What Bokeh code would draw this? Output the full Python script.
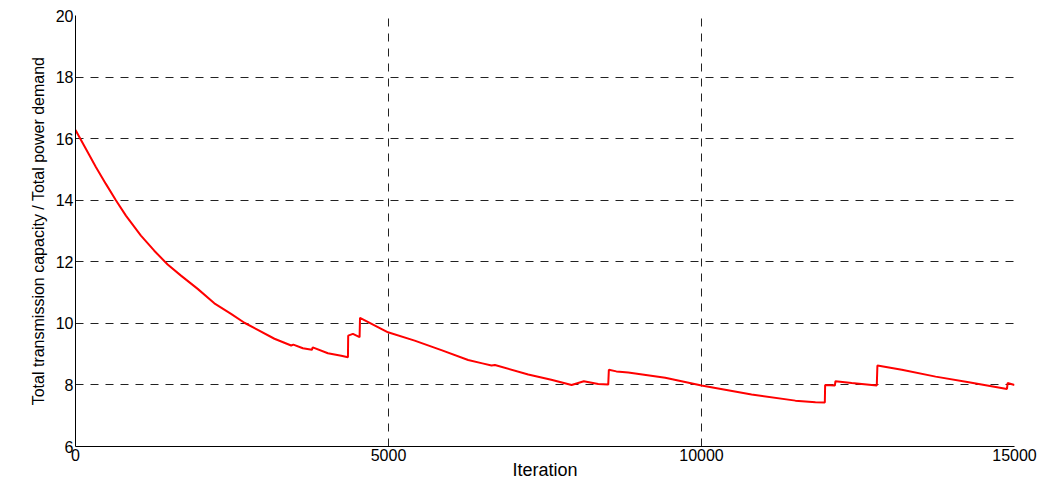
from bokeh.plotting import figure
from bokeh.models import FixedTicker, Range1d
from bokeh.embed import file_html
from bokeh.resources import INLINE

iterations = [0, 165, 325, 485, 645, 805, 1045, 1258, 1472, 1685, 1952, 2218, 2485,
              2698, 2912, 3178, 3445, 3480, 3632, 3776, 3790, 4032, 4245, 4352, 4356,
              4432, 4538, 4545, 4992, 5418, 5845, 6272, 6500, 6645, 6700, 7232, 7600,
              7925, 8120, 8350, 8510, 8520, 8640, 8830, 9420, 10000, 10800, 11500,
              11820, 11970, 11975, 12130, 12140, 12400, 12800, 12810, 13200, 13740,
              14270, 14880, 14890, 15000]
ratio = [16.28, 15.67, 15.08, 14.53, 14.00, 13.50, 12.85, 12.36, 11.91, 11.55, 11.12, 10.65, 10.31,
         10.02, 9.79, 9.50, 9.28, 9.31, 9.19, 9.14, 9.22, 9.03, 8.95, 8.90, 9.60,
         9.66, 9.55, 10.18, 9.71, 9.44, 9.13, 8.81, 8.70, 8.63, 8.65, 8.34, 8.17,
         8.00, 8.12, 8.03, 8.01, 8.49, 8.44, 8.40, 8.23, 7.98, 7.69, 7.49,
         7.44, 7.43, 8.00, 7.98, 8.12, 8.06, 7.98, 8.63, 8.49, 8.27,
         8.09, 7.87, 8.06, 8.00]
x_ticks = [0, 5000, 10000, 15000]
y_ticks = [6, 8, 10, 12, 14, 16, 18, 20]

FONT = "Liberation Sans"

p = figure(width=1043, height=484, output_backend="svg", toolbar_location=None,
           x_range=Range1d(0, 15000), y_range=Range1d(6, 20),
           min_border_left=75, min_border_right=29, min_border_top=15, min_border_bottom=38)
p.outline_line_color = None
p.background_fill_color = "white"
p.border_fill_color = "white"

p.line(iterations, ratio, line_color="#ff0000", line_width=2)

for ax in (p.xaxis[0], p.yaxis[0]):
    ax.axis_line_color = "black"
    ax.axis_line_width = 1
    ax.major_tick_in = 0
    ax.major_tick_out = 0
    ax.minor_tick_in = 0
    ax.minor_tick_out = 0
    ax.major_label_text_font = FONT
    ax.major_label_text_font_size = "16px"
    ax.major_label_text_color = "black"
    ax.axis_label_text_font = FONT
    ax.axis_label_text_font_style = "normal"
    ax.axis_label_text_color = "black"

p.xaxis[0].ticker = FixedTicker(ticks=x_ticks)
p.yaxis[0].ticker = FixedTicker(ticks=y_ticks)
p.xaxis[0].axis_label = "Iteration"
p.xaxis[0].axis_label_text_font_size = "18px"
p.xaxis[0].axis_label_standoff = -4
p.xaxis[0].major_label_standoff = 2
p.yaxis[0].axis_label = "Total transmission capacity / Total power demand"
p.yaxis[0].axis_label_text_font_size = "16px"
p.yaxis[0].axis_label_standoff = 6
p.yaxis[0].major_label_standoff = 2

for g in (p.xgrid[0], p.ygrid[0]):
    g.grid_line_color = "#222222"
    g.grid_line_dash = "8 7"
    g.grid_line_width = 1

open("out.html", "w").write(file_html(p, INLINE))
